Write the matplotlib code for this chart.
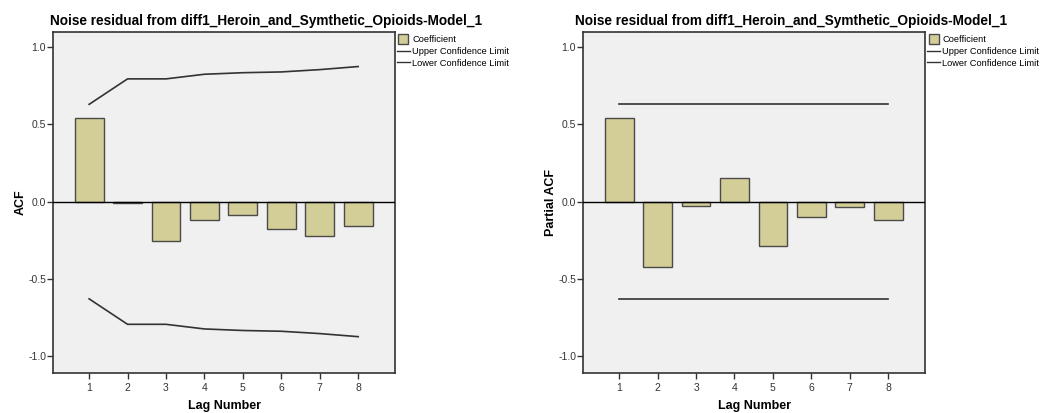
import numpy as np
import matplotlib
matplotlib.use("Agg")
import matplotlib.pyplot as plt
from matplotlib.lines import Line2D

plt.rcParams['font.family'] = ['Liberation Sans', 'DejaVu Sans']

# residual autocorrelations, lags 1..8
lags = [1, 2, 3, 4, 5, 6, 7, 8]
acf = [0.54, -0.01, -0.255, -0.12, -0.09, -0.175, -0.225, -0.155]
acf_upper = [0.63, 0.795, 0.795, 0.825, 0.835, 0.84, 0.855, 0.875]
acf_lower = [-0.63, -0.795, -0.795, -0.825, -0.835, -0.84, -0.855, -0.875]

pacf = [0.54, -0.425, -0.03, 0.15, -0.29, -0.1, -0.035, -0.12]
pacf_upper = [0.63] * 8
pacf_lower = [-0.63] * 8

title = "Noise residual from diff1_Heroin_and_Symthetic_Opioids-Model_1"
yticks = [-1.0, -0.5, 0.0, 0.5, 1.0]

bar_col = "#d3ce97"
edge_col = "#4a4a4a"
line_col = "#333333"
bg_col = "#f0f0f0"

fig = plt.figure(figsize=(10.43, 4.13), dpi=100)
ax1 = fig.add_axes([0.0508, 0.097, 0.328, 0.826])
ax2 = fig.add_axes([0.559, 0.097, 0.328, 0.826])


def draw_panel(ax, vals, up, lo, ylab, title_x):
    ax.set_facecolor(bg_col)
    ax.bar(lags, vals, width=0.75, color=bar_col, edgecolor=edge_col,
           linewidth=1.0, zorder=2)
    ax.plot(lags, up, color=line_col, lw=1.2, zorder=3)
    ax.plot(lags, lo, color=line_col, lw=1.2, zorder=3)
    ax.axhline(0, color="black", lw=1.0, zorder=4)
    ax.set_xlim(0.06, 8.96)
    ax.set_ylim(-1.11, 1.1)
    ax.set_xticks(lags)
    ax.set_yticks(yticks)
    ax.set_yticklabels(["%.1f" % v for v in yticks])
    ax.tick_params(direction="out", length=4, width=1, labelsize=7.5,
                   colors="#333333", pad=1)
    ax.tick_params(axis="x", pad=3)
    for s in ax.spines.values():
        s.set_color("#333333")
        s.set_linewidth(1.2)
    ax.set_title(title, fontsize=9.8, fontweight="bold", pad=5, x=title_x)
    ax.set_xlabel("Lag Number", fontsize=9, fontweight="bold", labelpad=5)
    ax.set_ylabel(ylab, fontsize=9, fontweight="bold", labelpad=1)

    handles = [
        Line2D([], [], marker="s", markersize=7, markerfacecolor=bar_col,
               markeredgecolor=edge_col, linestyle="none"),
        Line2D([], [], color=line_col, lw=1.0),
        Line2D([], [], color=line_col, lw=1.0),
    ]
    labels = ["Coefficient", "Upper Confidence Limit", "Lower Confidence Limit"]
    ax.legend(handles, labels, loc="upper left", bbox_to_anchor=(1.0, 0.995),
              frameon=False, fontsize=6.7, handlelength=1.4,
              handletextpad=0.25, labelspacing=0.28, borderaxespad=0.1,
              borderpad=0.1)


draw_panel(ax1, acf, acf_upper, acf_lower, "ACF", 0.622)
draw_panel(ax2, pacf, pacf_upper, pacf_lower, "Partial ACF", 0.608)

fig.savefig("out.png", dpi=100)
